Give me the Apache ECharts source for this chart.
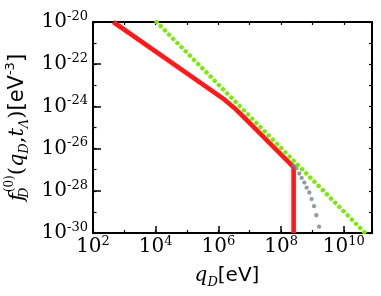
<!DOCTYPE html>
<html><head><meta charset="utf-8">
<script src="https://cdn.jsdelivr.net/npm/echarts@6/dist/echarts.min.js"></script>
<style>html,body{margin:0;padding:0;background:#fff}#c{width:381px;height:296px}</style>
</head><body><div id="c"></div>
<script>
// axis ranges (values)
const xRange = [1e2, 7.94e10];
const yRange = [1e-30, 1e-20];
// red solid curve (q_D [eV], f [eV^-3])
const redQ = [4.47e2, 1.58e6, 3.16e6, 6.31e6, 2.51e8, 2.51e8];
const redF = [1e-20, 2.09e-24, 8.71e-25, 3.24e-25, 1.32e-27, 1e-30];
// green dotted straight line (power law)
const greenQ = [1.07e4, 4.79e10];
const greenF = [1e-20, 1e-30];
// grey dotted curve
const greyQ = [2.51e8, 3.06e8, 3.81e8, 4.52e8, 5.51e8, 6.53e8, 7.96e8, 9.42e8, 1.125e9, 1.33e9, 1.63e9];
const greyF = [1.55e-27, 1.15e-27, 6.61e-28, 4.07e-28, 2.45e-28, 1.41e-28, 8.32e-29, 4.07e-29, 1.86e-29, 6.92e-30, 2.0e-30];

// log-log plot: axes run on decade exponents
const lg = Math.log10;
const zip = (a, b) => a.map((v, i) => [lg(v), lg(b[i])]);
const serif = 'DejaVu Serif';
const sans = 'DejaVu Sans';
const tickRich = {
  b: {fontFamily: serif, fontSize: 20, color: '#000', lineHeight: 24},
  s: {fontFamily: serif, fontSize: 13, color: '#000', lineHeight: 14, verticalAlign: 'top'}
};
function powLabel(e) {
  const r = Math.round(e);
  if (Math.abs(e - r) > 0.01) return '';
  return '{b|10}{s|' + r + '}';
}
const nameRich = (fs) => ({
  it: {fontFamily: serif, fontStyle: 'italic', fontSize: fs, color: '#000', lineHeight: fs + 6},
  rm: {fontFamily: serif, fontSize: fs, color: '#000', lineHeight: fs + 6},
  sub: {fontFamily: serif, fontStyle: 'italic', fontSize: 13, color: '#000', lineHeight: 13, verticalAlign: 'bottom'},
  subD: {fontFamily: serif, fontStyle: 'italic', fontSize: 13, color: '#000', lineHeight: 13, verticalAlign: 'bottom', width: 1},
  sup: {fontFamily: serif, fontSize: 12, color: '#000', lineHeight: 13, verticalAlign: 'top'},
  sans: {fontFamily: sans, fontSize: fs, color: '#000', lineHeight: fs + 6},
  sansSup: {fontFamily: sans, fontSize: 13, color: '#000', lineHeight: 13, verticalAlign: 'top'}
});
const frame = {show: true, lineStyle: {color: '#000', width: 2}};
const xMin = lg(xRange[0]), xMax = lg(xRange[1]);
const yMin = lg(yRange[0]), yMax = lg(yRange[1]);
function ax(o) {
  return Object.assign({type: 'value', splitLine: {show: false}, axisLabel: {show: false},
    axisLine: {show: false}}, o);
}
const chart = echarts.init(document.getElementById('c'), null, {renderer: 'canvas'});
chart.setOption({
  animation: false,
  grid: {left: 93, right: 9, top: 22, bottom: 63, containLabel: false, outerBoundsMode: 'none'},
  xAxis: [
    ax({min: xMin, max: xMax, interval: 2, position: 'bottom', axisLine: frame,
     axisTick: {inside: true, length: 7, lineStyle: {color: '#000', width: 1.5}},
     axisLabel: {formatter: powLabel, rich: tickRich, margin: 2},
     name: '{it|q}{sub|D}{sans|[eV]}', nameLocation: 'middle', nameGap: 30,
     nameTextStyle: {rich: nameRich(20), padding: [0, 11, 0, 0]}}),
    ax({min: xMin, max: xMax, interval: 1, position: 'bottom',
     axisTick: {inside: true, length: 3, lineStyle: {color: '#000', width: 1.2}}}),
    ax({min: xMin, max: xMax, interval: 1, position: 'top', axisLine: frame,
     axisTick: {inside: true, length: 3, lineStyle: {color: '#000', width: 1.2}}})
  ],
  yAxis: [
    ax({min: yMin, max: yMax, interval: 2, position: 'left', axisLine: frame,
     axisTick: {inside: true, length: 8, lineStyle: {color: '#000', width: 1.5}},
     axisLabel: {formatter: powLabel, rich: tickRich, margin: 5},
     name: '{it|f}{subD|D}{sup|(0)}{rm|(}{it|q}{sub|D}{rm|,}{it|t}{sub|Λ}{rm|)}{sans|[eV}{sansSup|-3}{sans|]}',
     nameLocation: 'middle', nameRotate: 90, nameGap: 60,
     nameTextStyle: {rich: nameRich(21)}}),
    ax({min: yMin, max: yMax, interval: 1, position: 'left',
     axisTick: {inside: true, length: 3.5, lineStyle: {color: '#000', width: 1.2}}}),
    ax({min: yMin, max: yMax, interval: 1, position: 'right', axisLine: frame,
     axisTick: {inside: true, length: 3, lineStyle: {color: '#000', width: 1.2}}})
  ],
  series: [
    {type: 'line', xAxisIndex: 0, yAxisIndex: 0, data: zip(redQ, redF), symbol: 'none',
     lineStyle: {color: '#ff1a1a', width: 4.6, join: 'round'}, z: 2},
    {type: 'line', xAxisIndex: 0, yAxisIndex: 0, data: zip(greenQ, greenF), symbol: 'none',
     lineStyle: {color: '#7ce80c', width: 4.5, type: [0.01, 5.9], cap: 'round'}, z: 3},
    {type: 'scatter', xAxisIndex: 0, yAxisIndex: 0, data: zip(greyQ, greyF), symbolSize: 4.3,
     itemStyle: {color: '#728392'}, z: 4}
  ]
});
</script></body></html>
